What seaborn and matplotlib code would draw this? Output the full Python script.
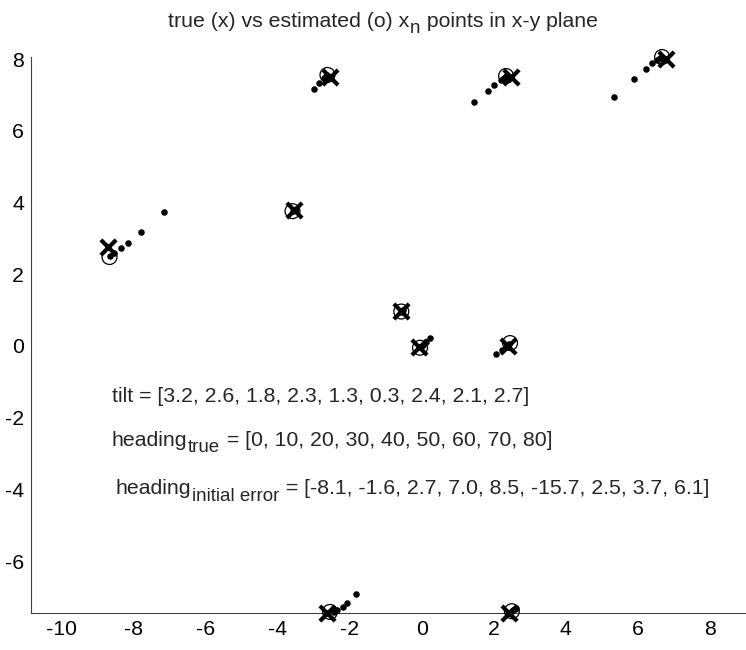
import matplotlib
matplotlib.use("Agg")
import matplotlib.pyplot as plt
import seaborn as sns
import pandas as pd

# true positions (x markers)
true_x = [-8.72, -2.55, 2.48, 6.78, -3.54, -0.57, -0.07, 2.40, -2.62, 2.42]
true_y = [2.76, 7.50, 7.50, 8.00, 3.79, 0.98, -0.03, 0.00, -7.45, -7.45]

# final estimated positions (o markers)
est_x = [-8.67, -2.62, 2.34, 6.67, -3.59, -0.57, -0.05, 2.45, -2.55, 2.50]
est_y = [2.48, 7.56, 7.53, 8.06, 3.76, 0.96, -0.05, 0.08, -7.42, -7.40]

# intermediate estimate trail (dots)
trail_x = [-7.17, -7.81, -8.17, -8.36, -8.55, -8.67,
           -2.98, -2.85, -2.71, -2.66, -2.62,
           1.45, 1.84, 2.01, 2.20, 2.28, 2.34,
           5.34, 5.89, 6.22, 6.39, 6.52, 6.62,
           -3.50, -3.55, -3.58,
           -0.52, -0.55, -0.57,
           0.23, 0.12, 0.04, -0.03,
           2.06, 2.23, 2.33, 2.42,
           -1.82, -2.07, -2.20, -2.35, -2.45,
           2.62, 2.58, 2.54, 2.50]
trail_y = [3.74, 3.18, 2.87, 2.73, 2.58, 2.50,
           7.17, 7.33, 7.47, 7.52, 7.56,
           6.80, 7.11, 7.28, 7.42, 7.48, 7.53,
           6.94, 7.45, 7.73, 7.89, 7.98, 8.04,
           3.82, 3.79, 3.77,
           1.00, 0.98, 0.96,
           0.22, 0.11, 0.03, -0.04,
           -0.22, -0.11, -0.03, 0.05,
           -6.92, -7.17, -7.27, -7.36, -7.41,
           -7.31, -7.34, -7.37, -7.40]

xticks = [-10, -8, -6, -4, -2, 0, 2, 4, 6, 8]
yticks = [-6, -4, -2, 0, 2, 4, 6, 8]

tilt = [3.2, 2.6, 1.8, 2.3, 1.3, 0.3, 2.4, 2.1, 2.7]
heading_true = [0, 10, 20, 30, 40, 50, 60, 70, 80]
heading_err = [-8.1, -1.6, 2.7, 7.0, 8.5, -15.7, 2.5, 3.7, 6.1]

sns.set_style("white")
plt.rcParams['font.family'] = ['Liberation Sans', 'DejaVu Sans']

FS = 15.3
SUB = 13.5

fig = plt.figure(figsize=(7.46, 6.5), dpi=100)
ax = fig.add_axes([31/746, 37/650, 715/746, (613-57)/650])

df_trail = pd.DataFrame({'x': trail_x, 'y': trail_y})
df_true = pd.DataFrame({'x': true_x, 'y': true_y})
df_est = pd.DataFrame({'x': est_x, 'y': est_y})

sns.scatterplot(data=df_trail, x='x', y='y', ax=ax, color='black', s=22,
                marker='o', edgecolor='black', linewidth=0, clip_on=False, zorder=3)
sns.scatterplot(data=df_est, x='x', y='y', ax=ax, s=115, marker='o',
                facecolor='none', edgecolor='black', linewidth=0.9, clip_on=False, zorder=4)
sns.scatterplot(data=df_true, x='x', y='y', ax=ax, s=120, marker='x',
                color='black', linewidth=3.0, clip_on=False, zorder=5)

ax.set_xlim(-10.85, 9.0)
ax.set_ylim(-7.45, 8.06)
ax.set_xticks(xticks)
ax.set_yticks(yticks)
ax.set_xticklabels([str(t) for t in xticks])
ax.set_yticklabels([str(t) for t in yticks])
ax.set_xlabel('')
ax.set_ylabel('')
ax.tick_params(direction='in', length=5, width=0.8, labelsize=FS, colors='black', pad=5)
for s in ['top', 'right']:
    ax.spines[s].set_visible(False)
for s in ['left', 'bottom']:
    ax.spines[s].set_color('#404040')
    ax.spines[s].set_linewidth(0.8)


def fmt(v):
    return '[' + ', '.join(str(a) for a in v) + ']'


def add_sub(t1, sub, rest):
    """Append a lowered subscript and the remaining text after text artist t1."""
    t2 = ax.annotate(sub, xy=(1, 0), xycoords=t1, xytext=(0.5, -4.5),
                     textcoords='offset points', fontsize=SUB, va='bottom',
                     ha='left', annotation_clip=False)
    t3 = ax.annotate(rest, xy=(1, 0), xycoords=(t2, t1), xytext=(0.5, 0),
                     textcoords='offset points', fontsize=FS, va='bottom',
                     ha='left', annotation_clip=False)
    return t2, t3


# title
tt = fig.text(168/746, 1 - 31/650, 'true (x) vs estimated (o) x', fontsize=FS,
              va='bottom', ha='left')
add_sub(tt, 'n', ' points in x-y plane')

# annotation lines
ax.text(-8.61, -1.42, 'tilt = ' + fmt(tilt), fontsize=FS, va='center', ha='left')
h1 = ax.text(-8.61, -2.90, 'heading', fontsize=FS, va='bottom', ha='left')
add_sub(h1, 'true', ' = ' + fmt(heading_true))
h2 = ax.text(-8.50, -4.25, 'heading', fontsize=FS, va='bottom', ha='left')
add_sub(h2, 'initial error', ' = ' + fmt(heading_err))

fig.savefig('out.png', dpi=100)
